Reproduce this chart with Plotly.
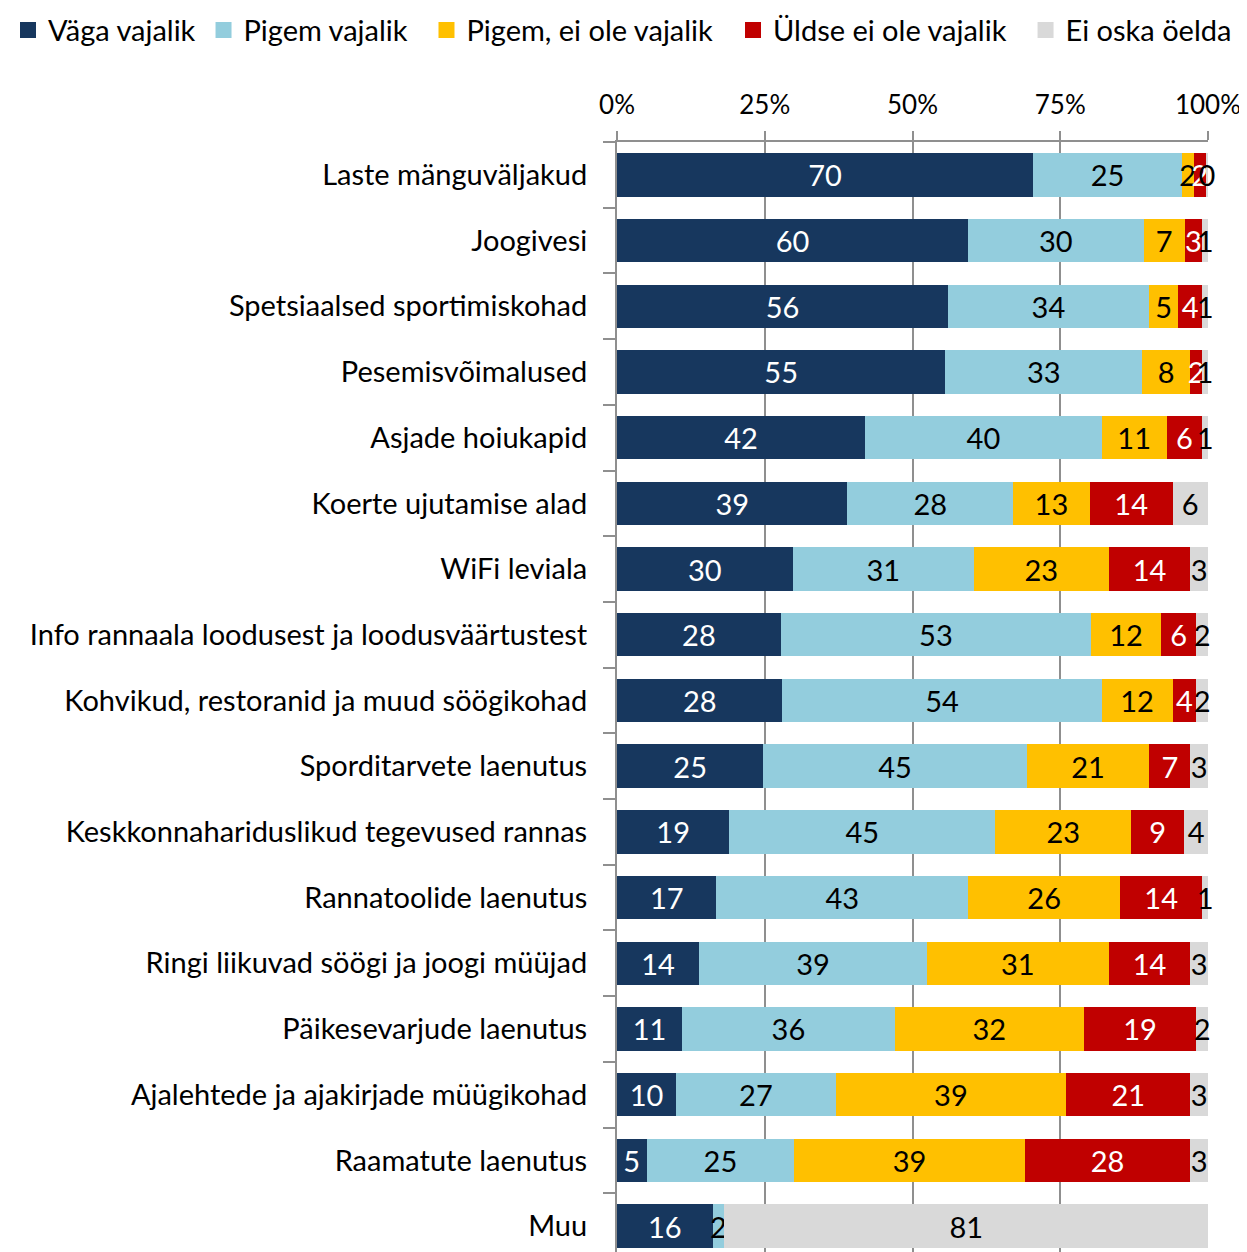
import plotly.graph_objects as go

# kategooriad (ülevalt alla)
categories = [
    "Laste mänguväljakud",
    "Joogivesi",
    "Spetsiaalsed sportimiskohad",
    "Pesemisvõimalused",
    "Asjade hoiukapid",
    "Koerte ujutamise alad",
    "WiFi leviala",
    "Info rannaala loodusest ja loodusväärtustest",
    "Kohvikud, restoranid ja muud söögikohad",
    "Sporditarvete laenutus",
    "Keskkonnahariduslikud tegevused rannas",
    "Rannatoolide laenutus",
    "Ringi liikuvad söögi ja joogi müüjad",
    "Päikesevarjude laenutus",
    "Ajalehtede ja ajakirjade müügikohad",
    "Raamatute laenutus",
    "Muu",
]

vaga_vajalik = [70, 60, 56, 55, 42, 39, 30, 28, 28, 25, 19, 17, 14, 11, 10, 5, 16]
pigem_vajalik = [25, 30, 34, 33, 40, 28, 31, 53, 54, 45, 45, 43, 39, 36, 27, 25, 2]
pigem_ei_ole = [2, 7, 5, 8, 11, 13, 23, 12, 12, 21, 23, 26, 31, 32, 39, 39, 0]
uldse_ei_ole = [2, 3, 4, 2, 6, 14, 14, 6, 4, 7, 9, 14, 14, 19, 21, 28, 0]
ei_oska = [0.4, 1, 1, 1, 1, 6, 3, 2, 2, 3, 4, 1, 3, 2, 3, 3, 81]

tick_vals = [0, 25, 50, 75, 100]
tick_text = ["0%", "25%", "50%", "75%", "100%"]

series = [
    ("Väga vajalik", vaga_vajalik, "#17375E", "white"),
    ("Pigem vajalik", pigem_vajalik, "#93CDDD", "black"),
    ("Pigem, ei ole vajalik", pigem_ei_ole, "#FFC000", "black"),
    ("Üldse ei ole vajalik", uldse_ei_ole, "#C00000", "white"),
    ("Ei oska öelda", ei_oska, "#D9D9D9", "black"),
]
# legendi kirjete asukoht (osa laiusest)
legend_x = [0.0, 0.1568, 0.3356, 0.5814, 0.8160]

FONT = "Lato"
SIZE = 29
GRID = "#8F8F8F"

fig = go.Figure()
for i, (name, vals, color, tcol) in enumerate(series):
    lg = "legend" if i == 0 else f"legend{i + 1}"
    fig.add_trace(go.Bar(
        name=name,
        y=categories,
        x=vals,
        orientation="h",
        marker=dict(color=color, line=dict(width=0)),
        width=0.66,
        text=[str(round(v)) if v else "" for v in vals],
        textposition="inside",
        insidetextanchor="middle",
        textfont=dict(color=tcol, size=SIZE, family=FONT),
        cliponaxis=False,
        showlegend=False,
    ))
    # legendi ruut (suurem kui tulba vaikesümbol)
    fig.add_trace(go.Scatter(
        name=name,
        x=[None], y=[None],
        mode="markers",
        marker=dict(symbol="square", size=17, color=color),
        legend=lg,
        showlegend=True,
        hoverinfo="skip",
    ))
    fig.update_layout({lg: dict(
        orientation="h",
        x=legend_x[i], xanchor="left", xref="container",
        y=0.9824, yanchor="middle", yref="container",
        font=dict(size=SIZE, family=FONT),
        itemwidth=30,
        itemsizing="trace",
        bgcolor="rgba(0,0,0,0)",
    )})

fig.update_layout(
    width=1247,
    height=1252,
    barmode="stack",
    barnorm="percent",
    plot_bgcolor="white",
    paper_bgcolor="white",
    font=dict(family=FONT, size=SIZE, color="black"),
    margin=dict(l=609, r=47, t=134, b=8),
    uniformtext=dict(mode="show", minsize=SIZE),
    xaxis=dict(
        side="top",
        range=[0, 100.001],
        tickvals=tick_vals,
        ticktext=tick_text,
        tickfont=dict(size=26),
        showgrid=True,
        gridcolor=GRID,
        gridwidth=2,
        showline=True,
        linecolor=GRID,
        linewidth=2,
        ticks="outside",
        ticklen=9,
        tickcolor=GRID,
        tickwidth=2,
        ticklabelstandoff=7,
        zeroline=False,
        automargin=False,
    ),
    yaxis=dict(
        range=[16.395, -0.5],
        showgrid=False,
        showline=True,
        linecolor=GRID,
        linewidth=2,
        ticks="outside",
        tickson="boundaries",
        ticklen=12,
        tickcolor=GRID,
        tickwidth=2,
        ticklabelstandoff=22,
        automargin=False,
    ),
)

fig.write_html("out.html")
